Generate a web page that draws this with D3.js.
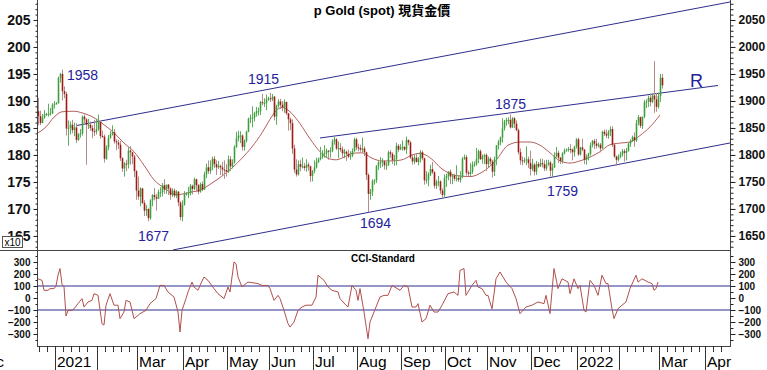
<!DOCTYPE html>
<html>
<head>
<meta charset="utf-8">
<script src="https://cdn.jsdelivr.net/npm/d3@7"></script>
<style>
	body { margin: 0; background: #fff; }
	svg { display: block; font-family: "Liberation Sans", Arial, "Noto Sans CJK TC", sans-serif; }
	.axis path.domain { display: none; }
	.axis line { stroke: #222; }
	.axis text { fill: #111; font-weight: bold; }
</style>
</head>
<body>
<svg id="chart" width="767" height="370"></svg>
<script>
(function() {

	//DATA - daily candles [open, high, low, close], one array per month, weekdays from startDate
	var startDate = '2020-12-21';

	var dec20 = [
		[1881,1906,1855,1872],[1872,1882,1855,1859],[1859,1876,1859,1869],[1869,1883,1867,1875],[1875,1878,1872,1876],
		[1876,1895,1871,1876],[1876,1887,1873,1877],[1877,1896,1876,1893],[1893,1900,1886,1895]
	];
	var jan21 = [
		[1895,1898,1893,1896],
		[1896,1945,1895,1943],[1943,1952,1934,1950],[1950,1958,1901,1918],[1918,1927,1905,1913],[1913,1917,1836,1849],
		[1849,1864,1817,1850],[1850,1862,1838,1856],[1856,1865,1840,1846],[1846,1860,1835,1851],[1851,1859,1822,1828],
		[1828,1840,1826,1839],[1839,1848,1832,1840],[1840,1873,1836,1871],[1871,1875,1858,1866],[1866,1868,1782,1856],
		[1856,1867,1848,1856],[1856,1862,1845,1850],[1850,1855,1831,1844],[1844,1865,1835,1843],[1843,1867,1838,1848]
	];
	var feb21 = [
		[1848,1875,1845,1861],[1861,1863,1830,1835],[1835,1845,1832,1834],[1834,1838,1786,1793],[1793,1818,1791,1814],
		[1814,1837,1809,1832],[1832,1844,1830,1838],[1838,1855,1836,1842],[1842,1848,1821,1825],[1825,1829,1809,1823],
		[1823,1828,1811,1819],[1819,1826,1789,1794],[1794,1796,1769,1775],[1775,1787,1760,1784],[1784,1791,1770,1783],
		[1783,1814,1775,1808],[1808,1816,1782,1805],[1805,1805,1783,1797],[1797,1800,1759,1770],[1770,1772,1717,1734]
	];
	var mar21 = [
		[1734,1760,1717,1723],[1723,1740,1705,1738],[1738,1739,1709,1711],[1711,1716,1687,1697],[1697,1707,1687,1700],
		[1700,1701,1677,1683],[1683,1718,1680,1716],[1716,1727,1705,1726],[1726,1739,1716,1722],[1722,1728,1697,1719],
		[1719,1736,1719,1731],[1731,1740,1722,1731],[1731,1748,1723,1744],[1744,1755,1728,1736],[1736,1745,1728,1745],
		[1745,1746,1726,1738],[1738,1740,1717,1726],[1726,1738,1722,1734],[1734,1738,1721,1725],[1725,1735,1720,1732],
		[1732,1733,1705,1712],[1712,1714,1679,1685],[1685,1716,1677,1708]
	];
	var apr21 = [
		[1708,1733,1706,1728],[1728,1731,1725,1728],
		[1728,1741,1720,1729],[1729,1746,1725,1743],[1743,1745,1727,1737],[1737,1758,1735,1755],[1755,1756,1731,1744],
		[1744,1746,1727,1732],[1732,1749,1730,1746],[1746,1751,1733,1736],[1736,1769,1735,1764],[1764,1784,1757,1777],
		[1777,1790,1765,1770],[1770,1790,1765,1778],[1778,1797,1772,1793],[1793,1798,1776,1783],[1783,1790,1763,1777],
		[1777,1789,1774,1780],[1780,1782,1763,1777],[1777,1787,1763,1773],[1773,1790,1756,1772],[1772,1783,1760,1769]
	];
	var may21 = [
		[1769,1799,1767,1792],[1792,1798,1770,1779],[1779,1792,1775,1786],[1786,1818,1784,1815],[1815,1843,1813,1831],
		[1831,1845,1825,1836],[1836,1844,1822,1836],[1836,1838,1808,1815],[1815,1829,1808,1826],[1826,1845,1823,1843],
		[1843,1869,1842,1867],[1867,1875,1859,1869],[1869,1890,1851,1869],[1869,1880,1862,1877],[1877,1889,1871,1881],
		[1881,1888,1873,1881],[1881,1900,1874,1898],[1898,1913,1892,1896],[1896,1905,1889,1896],[1896,1912,1883,1903],
		[1903,1908,1900,1905]
	];
	var jun21 = [
		[1905,1915,1898,1903],[1903,1913,1900,1908],[1908,1909,1864,1871],[1871,1893,1856,1891],
		[1891,1903,1888,1899],[1899,1904,1885,1893],[1893,1900,1881,1888],[1888,1903,1878,1898],[1898,1899,1874,1877],
		[1877,1878,1845,1866],[1866,1869,1846,1859],[1859,1866,1802,1812],[1812,1819,1767,1773],[1773,1792,1760,1764],
		[1764,1790,1762,1783],[1783,1791,1770,1778],[1778,1795,1775,1779],[1779,1785,1771,1776],[1776,1792,1769,1782],
		[1782,1786,1771,1779],[1779,1780,1750,1761],[1761,1772,1751,1770]
	];
	var jul21 = [
		[1770,1790,1766,1777],[1777,1795,1775,1787],
		[1787,1795,1785,1792],[1792,1815,1790,1796],[1796,1809,1793,1803],[1803,1818,1795,1803],[1803,1812,1795,1808],
		[1808,1809,1791,1806],[1806,1814,1795,1808],[1808,1829,1805,1825],[1825,1834,1819,1829],[1829,1831,1809,1812],
		[1812,1825,1794,1813],[1813,1822,1806,1810],[1810,1816,1796,1803],[1803,1811,1794,1806],[1806,1808,1789,1802],
		[1802,1810,1794,1797],[1797,1807,1791,1799],[1799,1812,1796,1807],[1807,1832,1806,1829],[1829,1832,1809,1814]
	];
	var aug21 = [
		[1814,1821,1807,1813],[1813,1819,1806,1810],[1810,1832,1805,1812],[1812,1816,1798,1805],[1805,1806,1754,1763],
		[1763,1766,1694,1728],[1728,1737,1717,1732],[1732,1755,1724,1752],[1752,1755,1745,1753],[1753,1781,1748,1780],
		[1780,1789,1772,1786],[1786,1796,1776,1787],[1787,1794,1778,1788],[1788,1790,1773,1781],[1781,1787,1772,1781],
		[1781,1808,1780,1805],[1805,1809,1795,1802],[1802,1805,1783,1790],[1790,1800,1780,1792],[1792,1823,1781,1817],
		[1817,1820,1806,1810],[1810,1820,1809,1814]
	];
	var sep21 = [
		[1814,1827,1808,1815],[1815,1816,1808,1810],[1810,1834,1802,1828],
		[1828,1828,1818,1823],[1823,1826,1793,1795],[1795,1800,1782,1788],[1788,1800,1783,1795],[1795,1802,1786,1787],
		[1787,1796,1781,1793],[1793,1809,1786,1805],[1805,1808,1790,1794],[1794,1795,1745,1753],[1753,1770,1747,1754],
		[1754,1768,1742,1764],[1764,1782,1761,1774],[1774,1787,1765,1768],[1768,1770,1738,1743],[1743,1754,1737,1750],
		[1750,1761,1742,1751],[1751,1753,1728,1734],[1734,1738,1721,1726],[1726,1764,1721,1757]
	];
	var oct21 = [
		[1757,1765,1741,1761],
		[1761,1770,1753,1769],[1769,1773,1746,1760],[1760,1765,1746,1762],[1762,1765,1752,1756],[1756,1781,1751,1757],
		[1757,1762,1750,1754],[1754,1770,1749,1760],[1760,1796,1757,1793],[1793,1801,1791,1796],[1796,1800,1762,1767],
		[1767,1771,1760,1765],[1765,1785,1761,1769],[1769,1788,1765,1782],[1782,1788,1778,1783],[1783,1813,1780,1793],
		[1793,1810,1785,1807],[1807,1810,1791,1792],[1792,1801,1784,1798],[1798,1802,1783,1800],[1800,1803,1770,1783]
	];
	var nov21 = [
		[1783,1797,1777,1793],[1793,1796,1782,1788],[1788,1791,1758,1769],[1769,1797,1761,1792],[1792,1818,1781,1818],
		[1818,1828,1810,1824],[1824,1834,1818,1832],[1832,1868,1823,1849],[1849,1865,1845,1862],[1862,1869,1854,1865],
		[1865,1870,1857,1865],[1865,1875,1849,1851],[1851,1870,1850,1868],[1868,1870,1850,1858],[1858,1864,1844,1846],
		[1846,1849,1801,1805],[1805,1812,1782,1790],[1790,1797,1781,1788],[1788,1795,1785,1790],[1790,1816,1781,1792],
		[1792,1797,1776,1785],[1785,1808,1762,1774]
	];
	var dec21 = [
		[1774,1793,1770,1782],[1782,1785,1762,1769],[1769,1789,1763,1783],
		[1783,1787,1776,1779],[1779,1793,1778,1785],[1785,1793,1777,1783],[1783,1790,1770,1775],[1775,1791,1771,1782],
		[1782,1791,1780,1786],[1786,1789,1760,1771],[1771,1784,1759,1777],[1777,1805,1776,1798],[1798,1815,1795,1804],
		[1804,1808,1785,1795],[1795,1796,1783,1789],[1789,1805,1784,1803],[1803,1812,1801,1808],[1808,1812,1806,1810],
		[1810,1815,1806,1811],[1811,1820,1803,1810],[1810,1812,1790,1805],[1805,1817,1797,1815],[1815,1831,1812,1829]
	];
	var jan22 = [
		[1829,1832,1798,1801],[1801,1815,1799,1814],[1814,1830,1807,1810],[1810,1811,1783,1791],[1791,1801,1782,1797],
		[1797,1804,1790,1802],[1802,1823,1799,1818],[1818,1828,1814,1826],[1826,1830,1811,1821],[1821,1830,1812,1817],
		[1817,1823,1814,1819],[1819,1822,1805,1812],[1812,1845,1812,1843],[1843,1847,1835,1839],[1839,1847,1831,1836],
		[1836,1846,1830,1843],[1843,1853,1835,1848],[1848,1853,1815,1819],[1819,1822,1795,1797],[1797,1799,1780,1791],
		[1791,1801,1788,1797]
	];
	var feb22 = [
		[1797,1806,1794,1801],[1801,1811,1797,1807],[1807,1811,1788,1804],[1804,1813,1790,1808],
		[1808,1822,1806,1821],[1821,1829,1815,1826],[1826,1836,1824,1833],[1833,1842,1815,1827],[1827,1865,1824,1859],
		[1859,1874,1855,1870],[1870,1871,1850,1854],[1854,1871,1848,1871],[1871,1902,1868,1898],[1898,1903,1887,1899],
		[1899,1910,1889,1906],[1906,1914,1890,1898],[1898,1914,1896,1910],[1910,1974,1878,1903],[1903,1915,1880,1889],
		[1889,1915,1886,1909]
	];
	var mar22 = [
		[1909,1950,1898,1943],[1943,1950,1923,1929]
	];

	// moving average (trading day number, price)
	var maDay = [0,4,8,12,18,22,28,33,38,43,48,53,58,63,69,76,81,87,92,97,102,107,112,116,119,122,126,131,136,141,145,149,153,157,
		162,167,172,177,182,187,191,196,202,209,216,222,229,235,241,246,251,256,261,266,271,276,281,286,291,296,301,306,311];
	var maVal = [1841,1852,1870,1880,1881,1878,1869,1856,1841,1822,1806,1781,1754,1739,1726,1731,1735,1748,1761,1776,1794,1815,1841,1866,1882,1888,1880,1858,1830,1806,1794,1791,1796,1803,
		1804,1794,1789,1789,1791,1800,1803,1795,1774,1762,1760,1768,1790,1818,1824,1824,1818,1804,1789,1785,1789,1796,1806,1819,1822,1824,1836,1852,1874];

	// CCI (trading day number, value)
	var cciDay = [0,2,3,5,6,8,9,10,11,12,13,14,15,17,18,20,22,23,25,27,28,30,32,33,34,36,38,40,41,43,44,46,48,50,51,54,56,59,61,63,65,68,70,71,72,74,75,77,78,80,81,83,85,88,90,93,95,96,98,99,
		100,102,104,105,110,112,115,116,118,120,121,123,125,126,128,130,132,134,137,139,140,143,145,147,150,151,154,155,157,159,160,161,163,165,166,169,171,173,175,177,
		181,183,185,187,189,190,192,194,196,198,200,202,205,208,210,211,213,214,217,219,220,222,224,225,227,229,231,234,237,239,241,244,247,250,253,254,256,258,260,262,
		265,266,268,270,271,273,274,276,278,280,282,284,285,287,288,290,292,294,296,299,300,302,305,307,308,309,310];
	var cciVal = [160,147,64,64,78,78,100,190,245,115,95,-150,-103,-103,-90,-47,-5,-75,-33,-20,36,22,-215,-225,-60,36,-60,-60,-172,-117,-20,-33,-172,-145,-130,-103,-47,-5,105,105,50,8,-117,-283,-103,-5,50,133,92,64,105,175,147,78,36,-5,92,50,300,286,
		175,92,120,133,120,105,105,78,-20,22,-5,-103,-214,-242,-200,-103,-75,-60,-60,8,190,147,92,64,50,-5,-60,-75,105,64,-20,78,-117,-340,-200,-75,8,22,22,105,
		64,105,92,-75,-75,-47,-200,-172,-60,-117,-117,-60,36,50,22,230,245,22,105,147,92,78,22,22,-90,160,217,133,78,-5,-130,-75,-60,-33,-47,22,-130,245,78,160,
		133,36,160,78,105,-103,-117,147,105,22,190,120,120,-90,-172,-90,-60,-33,78,190,133,160,133,120,64,78,133];

	// month names on the time axis (Jan shows the year, Feb is left blank as in the source)
	var monthNames = ['', '', 'Mar', 'Apr', 'May', 'Jun', 'Jul', 'Aug', 'Sep', 'Oct', 'Nov', 'Dec'];

	// price axis ticks
	var priceTicks = [1650, 1700, 1750, 1800, 1850, 1900, 1950, 2000, 2050];
	var cciTicks = [-300, -200, -100, 0, 100, 200, 300];
	var cciLevels = [-100, 100];

	// trend lines [day0, price0, day1, price1]
	var trendLines = [
		[19.5, 1854.6, 346, 2083.3],
		[141, 1831.5, 340, 1928.7],
		[67.5, 1624.1, 346, 1822.2]
	];

	// text notes [text, day, price]
	var notes = [
		['1958', 14.5, 1939],
		['1677', 50, 1641],
		['1915', 105, 1931.5],
		['1694', 161, 1665],
		['1875', 228.5, 1885],
		['1759', 254.5, 1724]
	];
	var noteR = ['R', 326, 1926];

	//LAYOUT
	var plot = { left: 37, right: 730, top: 0, mid: 250, bottom: 346 };
	var upColor = '#3c9e3c', downColor = '#9c1b14';
	var upWick = '#5cae5c', downWick = '#b48c8a';
	var lineBlue = '#2e2e8e', textBlue = '#22229c';

	var svg = d3.select('#chart');

	// build the candle list
	var rows = [].concat(dec20, jan21, feb21, mar21, apr21, may21, jun21, jul21, aug21, sep21, oct21, nov21, dec21, jan22, feb22, mar22);
	var day = d3.timeParse('%Y-%m-%d')(startDate);
	var candles = rows.map(function(r, i) {
		while (day.getDay() === 0 || day.getDay() === 6) day = d3.timeDay.offset(day, 1);
		var d = { i: i, date: day, o: r[0], h: r[1], l: r[2], c: r[3] };
		day = d3.timeDay.offset(day, 1);
		return d;
	});

	// SCALES
	var x = d3.scaleLinear().domain([0, 346]).range([38, 730]);
	var yP = d3.scaleLinear().domain([1624, 2087]).range([plot.mid, plot.top]);
	var yC = d3.scaleLinear().domain([-400, 400]).range([plot.bottom, plot.mid]);

	svg.append('defs').append('clipPath').attr('id', 'clipP')
		.append('rect').attr('x', plot.left).attr('y', plot.top)
		.attr('width', plot.right - plot.left).attr('height', plot.mid - plot.top);
	svg.append('defs').append('clipPath').attr('id', 'clipC')
		.append('rect').attr('x', plot.left).attr('y', plot.mid)
		.attr('width', plot.right - plot.left).attr('height', plot.bottom - plot.mid);

	//TITLE
	svg.append('text')
		.attr('x', 382).attr('y', 15)
		.attr('text-anchor', 'middle')
		.style('font-size', '13px').style('font-weight', 'bold')
		.text('p Gold (spot) 現貨金價');

	// PRICE PANEL
	var gP = svg.append('g').attr('clip-path', 'url(#clipP)');

	gP.selectAll('.trend')
		.data(trendLines)
		.enter().append('line')
		.attr('class', 'trend')
		.attr('x1', function(d) { return x(d[0]); })
		.attr('y1', function(d) { return yP(d[1]); })
		.attr('x2', function(d) { return x(d[2]); })
		.attr('y2', function(d) { return yP(d[3]); })
		.attr('stroke', lineBlue).attr('stroke-width', 1);

	var maLine = d3.line()
		.x(function(d, i) { return x(d); })
		.y(function(d, i) { return yP(maVal[i]); })
		.curve(d3.curveMonotoneX);

	gP.append('path')
		.attr('d', maLine(maDay))
		.attr('fill', 'none')
		.attr('stroke', '#b4605c')
		.attr('stroke-width', 1);

	var cg = gP.selectAll('.candle')
		.data(candles)
		.enter().append('g')
		.attr('class', 'candle');

	cg.append('line')
		.attr('x1', function(d) { return x(d.i) + 0.5; })
		.attr('x2', function(d) { return x(d.i) + 0.5; })
		.attr('y1', function(d) { return yP(d.h); })
		.attr('y2', function(d) { return yP(d.l); })
		.attr('stroke', function(d) { return d.c >= d.o ? upWick : downWick; })
		.attr('stroke-width', 1);

	cg.append('rect')
		.attr('x', function(d) { return x(d.i) - 0.3; })
		.attr('width', 1.6)
		.attr('y', function(d) { return yP(Math.max(d.o, d.c)); })
		.attr('height', function(d) { return Math.max(1, Math.abs(yP(d.o) - yP(d.c))); })
		.attr('fill', function(d) { return d.c >= d.o ? upColor : downColor; });

	// notes
	svg.selectAll('.note')
		.data(notes)
		.enter().append('text')
		.attr('class', 'note')
		.attr('x', function(d) { return x(d[1]); })
		.attr('y', function(d) { return yP(d[2]); })
		.attr('fill', textBlue)
		.style('font-size', '14px')
		.text(function(d) { return d[0]; });

	svg.append('text')
		.attr('x', x(noteR[1])).attr('y', yP(noteR[2]))
		.attr('fill', textBlue)
		.style('font-size', '18px')
		.text(noteR[0]);

	// CCI PANEL
	var gC = svg.append('g').attr('clip-path', 'url(#clipC)');

	gC.selectAll('.level')
		.data(cciLevels)
		.enter().append('line')
		.attr('x1', plot.left).attr('x2', plot.right)
		.attr('y1', function(d) { return yC(d); })
		.attr('y2', function(d) { return yC(d); })
		.attr('stroke', lineBlue).attr('stroke-width', 1);

	var cciLine = d3.line()
		.x(function(d) { return x(d); })
		.y(function(d, i) { return yC(cciVal[i]); });

	gC.append('path')
		.attr('d', cciLine(cciDay))
		.attr('fill', 'none')
		.attr('stroke', '#b0504c')
		.attr('stroke-width', 1);

	svg.append('text')
		.attr('x', 383).attr('y', 262)
		.attr('text-anchor', 'middle')
		.style('font-size', '10px').style('font-weight', 'bold')
		.text('CCI-Standard');

	// FRAME
	svg.append('line').attr('x1', 0).attr('x2', plot.right).attr('y1', plot.mid + 0.5).attr('y2', plot.mid + 0.5)
		.attr('stroke', '#444');
	svg.append('line').attr('x1', plot.left).attr('x2', plot.right).attr('y1', plot.bottom + 0.5).attr('y2', plot.bottom + 0.5)
		.attr('stroke', '#444');
	[plot.left, plot.right].forEach(function(px) {
		svg.append('line').attr('x1', px + 0.5).attr('x2', px + 0.5).attr('y1', 0).attr('y2', plot.bottom + 1)
			.attr('stroke', '#444');
	});

	// AXES
	function axis(gen, tx, size, fmt, font) {
		var g = svg.append('g').attr('class', 'axis').attr('transform', 'translate(' + tx + ',0)');
		g.call(gen.tickSize(size).tickFormat(fmt));
		g.selectAll('text').style('font-size', font);
		return g;
	}

	axis(d3.axisLeft(yP).tickValues(d3.range(1630, 2081, 10)), plot.left + 0.5, 2, '', '0px');
	axis(d3.axisLeft(yP).tickValues(priceTicks), plot.left + 0.5, 4, function(d) { return d / 10; }, '14px');
	axis(d3.axisRight(yP).tickValues(d3.range(1630, 2081, 10)), plot.right + 0.5, 3, '', '0px');
	axis(d3.axisRight(yP).tickValues(priceTicks), plot.right + 0.5, 5, d3.format('d'), '12px');

	axis(d3.axisLeft(yC).tickValues(d3.range(-350, 351, 50)), plot.left + 0.5, 2, '', '0px');
	axis(d3.axisLeft(yC).tickValues(cciTicks), plot.left + 0.5, 4, d3.format('d'), '10px');
	axis(d3.axisRight(yC).tickValues(d3.range(-350, 351, 50)), plot.right + 0.5, 3, '', '0px');
	axis(d3.axisRight(yC).tickValues(cciTicks), plot.right + 0.5, 5, d3.format('d'), '10px');

	// x10 marker
	svg.append('rect')
		.attr('x', 2.5).attr('y', 236.5).attr('width', 20).attr('height', 11)
		.attr('fill', '#fff').attr('stroke', '#555');
	svg.append('text')
		.attr('x', 12.5).attr('y', 245.5).attr('text-anchor', 'middle')
		.style('font-size', '10px')
		.text('x10');

	// TIME AXIS
	var starts = candles.filter(function(d, i) {
		return i > 0 && d.date.getMonth() !== candles[i - 1].date.getMonth();
	}).map(function(d) { return d.i; });
	var nextStarts = starts.slice(1).concat([candles.length + 20]);

	var gx = svg.append('g');
	function tick(px, long) {
		gx.append('line').attr('x1', px).attr('x2', px)
			.attr('y1', plot.bottom).attr('y2', long ? 370 : plot.bottom + 6)
			.attr('stroke', '#333');
	}
	function monthLabel(px, label) {
		gx.append('text').attr('x', px + 1.5).attr('y', 367)
			.style('font-size', '15.5px')
			.text(label);
	}

	starts.forEach(function(s, k) {
		var sx = Math.round(x(s)) - 0.5;
		var m = candles[s].date.getMonth();
		tick(sx, true);
		for (var j = s + 4; j < nextStarts[k] - 1; j += 4) {
			if (x(j) > plot.right) break;
			tick(Math.round(x(j)) - 0.5, false);
		}
		monthLabel(sx, m === 0 ? String(candles[s].date.getFullYear()) : monthNames[m]);
	});
	// ticks before the first month boundary and the leading "Dec"
	for (var j = starts[0] - 4; j >= 0; j -= 4) {
		tick(Math.round(x(j)) - 0.5, false);
	}
	gx.append('text').attr('x', x(0) - 34).attr('y', 367)
		.attr('text-anchor', 'end')
		.style('font-size', '15.5px')
		.text('Dec');

	// Apr 2022 boundary (beyond the data: 23 weekdays in Mar 2022)
	var marStart = starts[starts.length - 1];
	var aprX = Math.round(x(marStart + 23)) - 0.5;
	tick(aprX, true);
	monthLabel(aprX, 'Apr');
	for (var q = marStart + 4; x(q) < plot.right; q += 4) {
		if (q === marStart + 24) q = marStart + 27;
		tick(Math.round(x(q)) - 0.5, false);
	}

})();
</script>
</body>
</html>
